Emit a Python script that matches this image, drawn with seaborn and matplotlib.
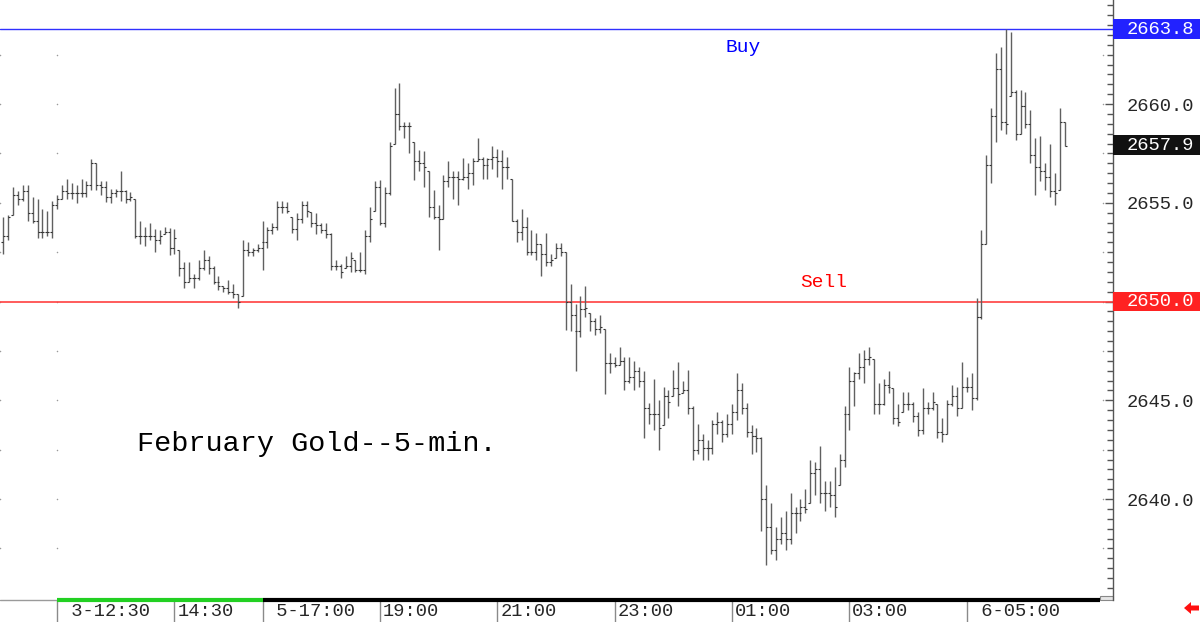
import numpy as np
import pandas as pd
import seaborn as sns
import matplotlib.pyplot as plt
import matplotlib.transforms as mtransforms
from matplotlib.patches import Rectangle, Polygon
from matplotlib.ticker import MultipleLocator

# 5-minute bars, February gold (high / low / close)
highs = [
    2654.3, 2654.4, 2655.8, 2655.6, 2655.9, 2655.9, 2655.3, 2655.2, 2654.7, 2654.6,
    2655.1, 2655.4, 2655.9, 2656.2, 2656.0, 2655.9, 2656.2, 2656.1, 2657.2, 2657.0,
    2656.1, 2656.1, 2655.7, 2655.7, 2656.6, 2655.65, 2655.55, 2655.2, 2654.1, 2653.8,
    2654.0, 2653.7, 2653.6, 2653.8, 2653.75, 2653.7, 2652.6, 2652.0, 2652.0, 2651.4,
    2652.1, 2652.6, 2652.3, 2651.8, 2651.3, 2650.8, 2651.1, 2650.9, 2650.4, 2653.1,
    2653.0, 2652.7, 2652.9, 2654.1, 2653.8, 2654.0, 2655.1, 2655.1, 2655.05, 2654.3,
    2654.5, 2655.1, 2655.1, 2654.55, 2654.5, 2654.0, 2654.0, 2653.45, 2652.1, 2651.9,
    2652.3, 2652.5, 2652.1, 2652.5, 2653.6, 2654.8, 2656.1, 2656.15, 2655.8, 2658.1,
    2660.8, 2661.05, 2659.1, 2659.1, 2658.1, 2657.7, 2657.6, 2656.6, 2655.65, 2654.9,
    2656.4, 2657.1, 2656.6, 2656.6, 2657.25, 2657.0, 2657.25, 2658.3, 2657.3, 2657.25,
    2657.9, 2657.75, 2657.7, 2657.3, 2656.2, 2654.2, 2654.7, 2654.3, 2653.6, 2653.45,
    2652.9, 2653.45, 2652.4, 2652.95, 2652.95, 2652.5, 2650.9, 2649.9, 2650.3, 2650.8,
    2649.4, 2649.15, 2649.3, 2648.6, 2647.4, 2647.2, 2647.7, 2647.2, 2647.2, 2647.0,
    2646.7, 2646.5, 2644.85, 2646.1, 2645.0, 2645.7, 2645.5, 2646.55, 2646.95, 2646.0,
    2646.55, 2644.7, 2643.8, 2643.3, 2643.0, 2644.0, 2644.4, 2644.0, 2644.3, 2644.8,
    2646.4, 2645.9, 2644.85, 2643.75, 2643.6, 2643.15, 2640.7, 2639.8, 2638.6, 2639.1,
    2639.4, 2640.3, 2639.6, 2640.0, 2640.5, 2642.0, 2641.9, 2642.7, 2640.9, 2640.9,
    2641.6, 2642.3, 2644.7, 2646.7, 2646.45, 2647.4, 2647.55, 2647.7, 2647.1, 2645.9,
    2646.1, 2646.5, 2645.6, 2644.8, 2645.4, 2645.4, 2644.9, 2644.4, 2645.6, 2644.9,
    2645.4, 2644.8, 2644.1, 2645.0, 2645.8, 2645.7, 2646.95, 2646.2, 2646.4, 2650.2,
    2653.6, 2657.4, 2659.8, 2662.6, 2662.9, 2663.8, 2663.65, 2660.7, 2660.7, 2660.6,
    2659.7, 2658.3, 2658.4, 2657.0, 2658.0, 2656.5, 2659.8, 2659.1,
]
lows = [
    2652.4, 2653.1, 2654.4, 2654.9, 2655.1, 2654.1, 2654.0, 2653.2, 2653.2, 2653.3,
    2653.2, 2654.7, 2655.2, 2655.2, 2655.2, 2655.0, 2655.3, 2655.3, 2655.65, 2655.65,
    2655.4, 2655.05, 2655.0, 2655.3, 2655.1, 2655.0, 2655.1, 2653.2, 2652.9, 2652.8,
    2653.1, 2652.5, 2652.9, 2653.4, 2652.35, 2652.4, 2651.3, 2650.7, 2651.0, 2650.7,
    2651.1, 2651.6, 2651.4, 2650.9, 2650.6, 2650.5, 2650.4, 2650.2, 2649.7, 2650.3,
    2652.3, 2652.3, 2652.5, 2651.6, 2652.7, 2653.4, 2653.6, 2654.5, 2654.5, 2653.45,
    2653.1, 2654.0, 2654.3, 2653.8, 2653.4, 2653.45, 2653.2, 2651.6, 2651.6, 2651.2,
    2651.7, 2651.5, 2651.5, 2651.5, 2651.4, 2653.0, 2654.6, 2653.9, 2653.8, 2655.4,
    2658.0, 2658.7, 2658.3, 2657.5, 2656.15, 2656.6, 2655.8, 2654.3, 2654.2, 2652.6,
    2654.2, 2655.8, 2655.2, 2654.9, 2656.15, 2655.7, 2655.9, 2657.1, 2656.2, 2656.2,
    2656.7, 2656.3, 2655.7, 2656.2, 2654.1, 2653.0, 2653.1, 2652.35, 2652.35, 2652.1,
    2651.3, 2651.8, 2651.8, 2652.2, 2652.3, 2648.55, 2648.5, 2646.5, 2648.2, 2649.2,
    2648.5, 2648.3, 2648.4, 2645.3, 2646.4, 2646.7, 2646.8, 2645.5, 2645.9, 2645.5,
    2645.7, 2643.1, 2643.8, 2643.5, 2642.5, 2643.75, 2644.1, 2645.2, 2644.7, 2645.35,
    2644.3, 2642.0, 2642.3, 2642.0, 2642.0, 2642.3, 2643.3, 2642.9, 2643.15, 2643.3,
    2644.0, 2644.3, 2643.15, 2642.3, 2642.4, 2638.4, 2636.65, 2637.2, 2636.9, 2637.75,
    2637.4, 2637.75, 2638.3, 2638.9, 2639.3, 2639.8, 2640.2, 2639.8, 2639.4, 2639.6,
    2639.1, 2640.7, 2641.6, 2643.5, 2644.7, 2646.1, 2645.9, 2646.8, 2644.3, 2644.3,
    2644.75, 2645.35, 2643.8, 2643.7, 2644.4, 2644.5, 2643.9, 2643.2, 2643.3, 2644.3,
    2644.5, 2643.1, 2642.9, 2643.3, 2644.7, 2644.2, 2644.6, 2645.4, 2644.5, 2645.0,
    2649.1, 2652.9, 2656.0, 2658.1, 2658.7, 2658.5, 2660.4, 2658.2, 2658.5, 2658.8,
    2657.0, 2655.4, 2656.1, 2655.65, 2655.3, 2654.9, 2655.65, 2657.9,
]
closes = [
    2653.3, 2654.3, 2655.4, 2655.2, 2655.6, 2654.5, 2654.1, 2653.5, 2653.5, 2653.5,
    2654.9, 2655.2, 2655.6, 2655.5, 2655.5, 2655.5, 2655.5, 2655.9, 2657.0, 2655.9,
    2655.8, 2655.3, 2655.5, 2655.6, 2655.6, 2655.2, 2655.3, 2653.3, 2653.3, 2653.3,
    2653.3, 2653.1, 2653.3, 2653.5, 2652.7, 2653.2, 2651.7, 2651.0, 2651.2, 2651.2,
    2651.7, 2652.1, 2651.7, 2651.0, 2650.8, 2650.7, 2650.5, 2650.4, 2650.0, 2652.6,
    2652.5, 2652.6, 2652.7, 2653.0, 2653.6, 2653.8, 2654.8, 2654.8, 2654.6, 2653.7,
    2654.2, 2654.9, 2654.6, 2654.0, 2653.9, 2653.6, 2653.4, 2651.8, 2651.8, 2651.5,
    2651.8, 2652.2, 2651.6, 2651.6, 2653.3, 2654.2, 2655.8, 2654.0, 2655.5, 2657.9,
    2659.5, 2658.9, 2658.9, 2658.9, 2657.1, 2657.0, 2656.8, 2654.8, 2654.3, 2654.2,
    2656.1, 2656.3, 2656.3, 2656.2, 2656.3, 2656.5, 2657.1, 2657.2, 2656.9, 2657.2,
    2657.3, 2657.1, 2656.8, 2656.8, 2654.1, 2653.5, 2653.8, 2652.5, 2652.5, 2652.9,
    2652.4, 2652.0, 2652.1, 2652.7, 2652.5, 2650.0, 2649.3, 2648.5, 2649.6, 2649.7,
    2649.0, 2648.6, 2648.7, 2646.9, 2646.9, 2646.8, 2647.0, 2646.0, 2646.2, 2646.5,
    2646.0, 2644.6, 2644.3, 2644.3, 2643.6, 2645.2, 2644.9, 2645.6, 2645.3, 2645.5,
    2644.6, 2642.5, 2643.0, 2642.6, 2642.6, 2643.8, 2643.9, 2643.3, 2643.8, 2644.4,
    2645.5, 2644.6, 2643.4, 2643.2, 2643.1, 2640.0, 2638.6, 2637.4, 2638.0, 2638.3,
    2638.0, 2639.3, 2639.3, 2639.6, 2639.5, 2641.3, 2641.5, 2640.3, 2640.3, 2640.2,
    2639.6, 2642.0, 2644.3, 2646.0, 2646.4, 2646.7, 2647.1, 2647.2, 2644.8, 2644.8,
    2645.8, 2645.7, 2644.1, 2643.9, 2644.8, 2644.8, 2644.2, 2643.5, 2644.6, 2644.6,
    2644.9, 2643.4, 2643.3, 2644.8, 2645.2, 2644.6, 2645.7, 2645.7, 2645.1, 2649.2,
    2652.9, 2656.9, 2659.4, 2661.8, 2659.1, 2659.0, 2660.6, 2658.5, 2659.9, 2659.0,
    2657.4, 2656.8, 2656.6, 2656.3, 2655.6, 2655.5, 2659.1, 2657.9,
]
first_open = 2653.0

tick_bars = [11, 35, 53, 77, 101, 125, 149, 173, 197]
tick_labels = [" 3-12:30", "14:30", " 5-17:00", "19:00", "21:00",
               "23:00", "01:00", "03:00", " 6-05:00"]
price_ticks = [2640.0, 2645.0, 2650.0, 2655.0, 2660.0]

buy_level = 2663.8
sell_level = 2650.0
last_price = closes[-1]

df = pd.DataFrame({"high": highs, "low": lows, "close": closes})
df["bar"] = np.arange(len(df))
df["open"] = df["close"].shift(1).fillna(first_open).clip(df["low"], df["high"])

sns.set_style("white")
plt.rcParams["font.family"] = ["Liberation Mono", "DejaVu Sans Mono"]

fig = plt.figure(figsize=(12, 6.22), dpi=100)
ax = fig.add_axes([0, 22 / 622, 1113 / 1200, 600 / 622])

# OHLC bars: high-low line, tiny open tick left, close tick right
ax.vlines(df["bar"], df["low"], df["high"], color="#606060", lw=1, zorder=3)
sns.scatterplot(x=df["bar"] - 0.2, y=df["open"], marker="_", s=2, color="#333333",
                linewidth=0.8, ax=ax, zorder=4, legend=False)
sns.scatterplot(x=df["bar"] + 0.2, y=df["close"], marker="_", s=2, color="#333333",
                linewidth=0.8, ax=ax, zorder=4, legend=False)
ax.set_xlabel("")
ax.set_ylabel("")

# buy / sell lines
ax.axhline(buy_level, color="#3030ff", lw=1, zorder=2)
ax.axhline(sell_level, color="#ff4040", lw=1.2, zorder=2)
ax.text(147.6, 2662.84, "Buy", color="#0000ff", fontsize=14, ha="left", va="center")
ax.text(162.9, 2650.99, "Sell", color="#ff0000", fontsize=14, ha="left", va="center")
ax.text(27.3, 2642.78, "February Gold--5-min.", color="black", fontsize=20.5,
        ha="left", va="center")

ax.set_xlim(-0.675, 226.9)
ax.set_ylim(2634.89, 2665.27)

# faint dot grid
dot_y = np.arange(2637.5, 2663.0, 2.5)
for xb in [-0.6, 11, 224.9]:
    ax.scatter(np.full(len(dot_y), xb), dot_y, s=1.2, color="#9a9a9a", lw=0, zorder=1)

# right price axis
ax.yaxis.tick_right()
ax.set_yticks(price_ticks)
ax.set_yticklabels(["" if p == sell_level else f"{p:.1f}" for p in price_ticks])
ax.yaxis.set_minor_locator(MultipleLocator(0.5))
ax.tick_params(axis="y", which="major", direction="in", length=6, width=1,
               color="#555555", labelsize=13.5, pad=10, right=True, left=False)
ax.tick_params(axis="y", which="minor", direction="in", length=4, width=1,
               color="#555555", right=True, left=False)
ax.set_xticks([])
for side in ["top", "left", "bottom"]:
    ax.spines[side].set_visible(False)
ax.spines["right"].set_color("#555555")
ax.spines["right"].set_linewidth(1)

# highlighted price boxes
ty = mtransforms.blended_transform_factory(ax.transAxes, ax.transData)
box_w = 87 / 1113
for price, col in [(buy_level, "#2222ff"), (last_price, "#111111"), (sell_level, "#ff2222")]:
    ax.add_patch(Rectangle((1.0, price - 0.5), box_w, 1.01, transform=ty,
                           facecolor=col, edgecolor="none", clip_on=False, zorder=5))
    ax.text(1.0 + 14 / 1113, price, f"{price:.1f}", transform=ty, color="white",
            fontsize=13.5, ha="left", va="center", clip_on=False, zorder=6)

# time axis strip
tx = mtransforms.blended_transform_factory(ax.transData, ax.transAxes)
ax.vlines(tick_bars, -22 / 600, 0, transform=tx, color="#8a8a8a", lw=1, clip_on=False)
for b, lab in zip(tick_bars, tick_labels):
    ax.text(b + 0.6, -11 / 600, lab, transform=tx, fontsize=13.5, ha="left",
            va="center", clip_on=False)
ax.plot([-0.675, tick_bars[0]], [0, 0], transform=tx, color="#9a9a9a", lw=1, clip_on=False)
ax.plot([tick_bars[0], tick_bars[2]], [0, 0], transform=tx, color="#22d022", lw=3,
        clip_on=False, solid_capstyle="butt")
ax.plot([tick_bars[2], 224.3], [0, 0], transform=tx, color="black", lw=3,
        clip_on=False, solid_capstyle="butt")
ax.add_patch(Rectangle((1100 / 1113, 0), 13 / 1113, 4 / 600, transform=ax.transAxes,
                       facecolor="#e6e6e6", edgecolor="#888888", lw=0.8, clip_on=False))

# small red arrow at the bottom right
arrow_px = [(1184, 608), (1191, 602), (1191, 605.5), (1199, 605.5),
            (1199, 610.5), (1191, 610.5), (1191, 614)]
fig.patches.append(Polygon([(x / 1200, (622 - y) / 622) for x, y in arrow_px],
                           closed=True, transform=fig.transFigure,
                           facecolor="#ff1010", edgecolor="none"))

fig.savefig("out.png", dpi=100)
